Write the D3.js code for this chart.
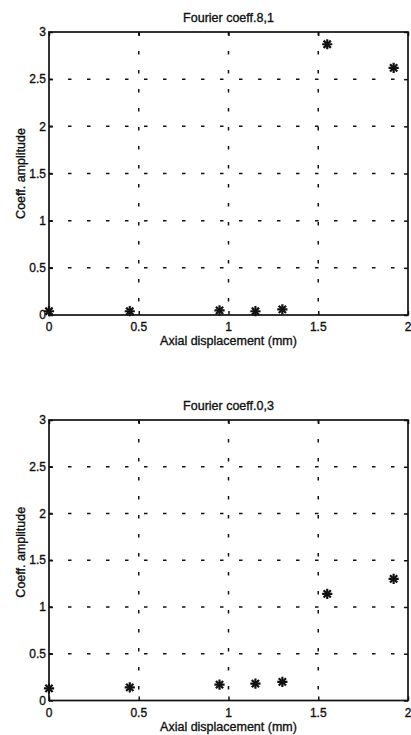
<!DOCTYPE html>
<html lang="en">
<head>
    <meta charset="UTF-8">
    <title>Fourier coefficients vs axial displacement</title>
    <script src="https://d3js.org/d3.v7.min.js"></script>
    <style>
        body {
            margin: 0;
            padding: 0;
            background: #fff;
        }
        svg {
            display: block;
            font-family: "Liberation Sans", Arial, sans-serif;
        }
        .grid line {
            stroke: #111;
            stroke-width: 1.5;
            stroke-dasharray: 3.5, 15.5;
        }
        .frame {
            fill: none;
            stroke: #111;
            stroke-width: 1.7;
        }
        .tick-label {
            font-size: 12px;
            fill: #111;
            stroke: #111;
            stroke-width: 0.35;
        }
        .label {
            font-size: 12.5px;
            fill: #111;
            stroke: #111;
            stroke-width: 0.35;
        }
    </style>
</head>
<body>
    <div id="chart"></div>
    <script>
        // axial displacement (mm) of each measurement
        var displacement = [0, 0.45, 0.95, 1.15, 1.3, 1.55, 1.92];
        // coefficient amplitudes
        var coeff81 = [0.04, 0.04, 0.05, 0.04, 0.06, 2.87, 2.62];
        var coeff03 = [0.13, 0.14, 0.17, 0.18, 0.2, 1.14, 1.3];
        var xTicks = [0, 0.5, 1, 1.5, 2];
        var yTicks = [0, 0.5, 1, 1.5, 2, 2.5, 3];
        var titles = ["Fourier coeff.8,1", "Fourier coeff.0,3"];
        var xLabel = "Axial displacement (mm)";
        var yLabel = "Coeff. amplitude";

        var w = 411;
        var h = 735;

        // panel boxes in page pixels
        var panels = [
            { left: 49, right: 408, top: 32, bottom: 315, values: coeff81, title: titles[0], labelShift: 0 },
            { left: 49, right: 408, top: 420, bottom: 700.5, values: coeff03, title: titles[1], labelShift: -8 }
        ];

        var svg = d3.select("#chart")
            .append("svg")
            .attr("width", w)
            .attr("height", h);

        var fmt = function(d) { return d3.format("")(d); };

        panels.forEach(function(p) {
            var x = d3.scaleLinear().domain([0, 2]).range([p.left, p.right]);
            var y = d3.scaleLinear().domain([0, 3]).range([p.bottom, p.top]);
            var g = svg.append("g");

            // dotted grid
            var grid = g.append("g").attr("class", "grid");
            grid.selectAll(".vx")
                .data(xTicks.slice(1, -1))
                .enter()
                .append("line")
                .attr("x1", function(d) { return x(d); })
                .attr("x2", function(d) { return x(d); })
                .attr("y1", p.top)
                .attr("y2", p.bottom);
            grid.selectAll(".hy")
                .data(yTicks.slice(1, -1))
                .enter()
                .append("line")
                .attr("x1", p.left)
                .attr("x2", p.right)
                .attr("y1", function(d) { return y(d); })
                .attr("y2", function(d) { return y(d); });

            // axes with inward ticks, on all four sides
            var tickLen = 4;
            g.append("g")
                .attr("transform", "translate(0," + p.bottom + ")")
                .call(d3.axisTop(x).tickValues(xTicks).tickSize(tickLen).tickFormat(""))
                .call(function(a) { a.select(".domain").remove(); });
            g.append("g")
                .attr("transform", "translate(0," + p.top + ")")
                .call(d3.axisBottom(x).tickValues(xTicks).tickSize(tickLen).tickFormat(""))
                .call(function(a) { a.select(".domain").remove(); });
            g.append("g")
                .attr("transform", "translate(" + p.left + ",0)")
                .call(d3.axisRight(y).tickValues(yTicks).tickSize(tickLen).tickFormat(""))
                .call(function(a) { a.select(".domain").remove(); });
            g.append("g")
                .attr("transform", "translate(" + p.right + ",0)")
                .call(d3.axisLeft(y).tickValues(yTicks).tickSize(tickLen).tickFormat(""))
                .call(function(a) { a.select(".domain").remove(); });
            g.selectAll(".tick line").attr("stroke", "#111").attr("stroke-width", 1.5);

            g.append("rect")
                .attr("class", "frame")
                .attr("x", p.left)
                .attr("y", p.top)
                .attr("width", p.right - p.left)
                .attr("height", p.bottom - p.top);

            // tick labels
            g.selectAll(".xl")
                .data(xTicks)
                .enter()
                .append("text")
                .attr("class", "tick-label")
                .attr("x", function(d) { return x(d); })
                .attr("y", p.bottom + 16)
                .attr("text-anchor", "middle")
                .text(fmt);
            g.selectAll(".yl")
                .data(yTicks)
                .enter()
                .append("text")
                .attr("class", "tick-label")
                .attr("x", p.left - 3)
                .attr("y", function(d) { return y(d); })
                .attr("dy", "0.35em")
                .attr("text-anchor", "end")
                .text(fmt);

            // title and axis labels
            g.append("text")
                .attr("class", "label")
                .attr("x", (p.left + p.right) / 2)
                .attr("y", p.top - 10.5)
                .attr("text-anchor", "middle")
                .text(p.title);
            g.append("text")
                .attr("class", "label")
                .attr("x", (p.left + p.right) / 2)
                .attr("y", p.bottom + 30)
                .attr("text-anchor", "middle")
                .text(xLabel);
            g.append("text")
                .attr("class", "label")
                .attr("transform", "translate(25," + ((p.top + p.bottom) / 2 + p.labelShift) + ") rotate(-90)")
                .attr("text-anchor", "middle")
                .text(yLabel);

            // asterisk markers (plus + times, like matlab '*')
            var pts = displacement.map(function(d, i) { return [d, p.values[i]]; });
            var plus = d3.symbol().type(d3.symbolPlus || d3.symbolCross).size(36);
            var times = d3.symbol().type(d3.symbolTimes || d3.symbolX).size(36);
            var marks = g.append("g")
                .selectAll("g")
                .data(pts)
                .enter()
                .append("g")
                .attr("transform", function(d) { return "translate(" + x(d[0]) + "," + y(d[1]) + ")"; });
            marks.append("path")
                .attr("d", plus())
                .attr("fill", "none")
                .attr("stroke", "#111")
                .attr("stroke-width", 2.2);
            marks.append("path")
                .attr("d", times())
                .attr("fill", "none")
                .attr("stroke", "#111")
                .attr("stroke-width", 2.2);
        });
    </script>
</body>
</html>
